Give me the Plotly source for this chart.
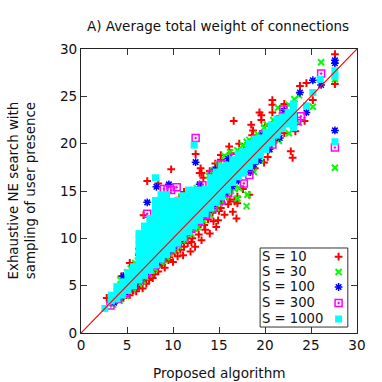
import plotly.graph_objects as go

# Values
s10_x = [2.8, 4.6, 5.3, 6.0, 6.7, 5.7, 6.3, 7.1, 7.8, 7.4, 8.4, 8.0, 9.1, 8.8, 10.0, 9.6, 10.5, 11.1, 10.8, 11.9, 12.4, 11.6,
         13.1, 12.1, 14.0, 13.5, 14.7, 14.9, 15.6, 16.5, 16.9, 17.0, 17.0, 15.2, 16.0, 18.3, 17.6,
         7.2, 9.8, 13.0, 13.1, 12.9, 12.46, 6.8, 8.4, 8.9, 10.6, 11.2, 10.7, 7.6, 8.2, 9.4, 5.3, 4.4, 6.3,
         16.1, 17.2, 15.2, 15.2, 16.3, 18.6, 14.6, 14.0, 13.3,
         20.8, 20.8, 20.8, 19.4, 19.6, 19.6, 18.5, 18.7, 22.1, 22.9, 23.8, 24.5, 25.2, 16.6, 22.8, 23.0,
         22.1, 21.2, 27.6, 27.6, 20.0, 21.6, 20.3, 19.9, 24.3, 23.3, 18.9, 19.2,
         5.0, 5.6, 6.1, 6.5, 6.9, 7.3, 7.7, 8.2, 8.6, 9.3, 9.8, 10.3, 10.9, 11.4, 12.7, 13.8, 14.3, 15.3, 15.9,
         9.0, 9.5, 10.2, 11.2, 12.0, 12.8, 13.4, 14.4, 15.0, 16.2, 16.7]
s10_y = [3.7, 3.7, 4.0, 4.4, 4.7, 4.5, 4.9, 5.2, 5.8, 5.6, 6.5, 6.2, 6.9, 7.2, 7.5, 8.0, 8.1, 8.2, 8.8, 8.6, 9.1, 9.5,
         9.8, 10.0, 10.5, 10.9, 11.2, 11.9, 12.5, 12.8, 12.1, 14.4, 13.7, 13.2, 13.6, 14.6, 15.2,
         16.05, 17.3, 17.4, 16.9, 16.9, 18.9, 12.45, 15.8, 11.7, 13.7, 14.9, 14.3, 10.6, 12.0, 13.0, 7.4, 6.0, 8.9,
         19.7, 20.0, 18.8, 18.3, 19.0, 20.9, 17.9, 17.1, 16.4,
         24.6, 24.1, 23.3, 23.3, 23.0, 22.5, 22.0, 21.4, 24.2, 24.1, 26.1, 26.4, 24.6, 22.4, 19.2, 18.5,
         21.1, 20.6, 29.45, 26.3, 21.9, 22.9, 18.6, 18.0, 22.4, 21.3, 17.4, 19.9,
         4.1, 4.5, 4.9, 5.3, 5.6, 5.9, 6.3, 6.9, 7.3, 7.9, 8.4, 8.8, 9.5, 10.0, 11.2, 12.0, 12.7, 13.8, 14.5,
         7.6, 7.7, 8.5, 9.1, 9.6, 10.4, 11.4, 11.8, 12.9, 14.1, 13.9]

s30_x = [3.5, 4.2, 4.9, 5.6, 6.3, 7.0, 7.7, 8.3, 9.0, 9.6, 10.3, 11.0, 11.7, 12.3, 13.0, 13.7, 14.3, 15.0, 15.7, 16.3, 17.2,
         18.1, 18.0, 17.0, 5.0, 6.2, 8.6, 10.9, 12.6, 14.4, 15.6, 18.3, 17.6, 19.2, 20.2, 21.4, 22.6, 23.2, 23.7,
         22.6, 23.7, 25.2, 26.1, 27.6, 27.6, 20.5, 19.5, 21.5, 18.8, 16.6,
         6.7, 7.4, 8.0, 8.7, 9.3, 10.0, 10.6, 11.3, 12.0, 12.7, 13.3, 14.0, 14.7, 15.3, 16.0, 16.7,
         4.3, 5.4, 5.9, 13.9, 14.9, 16.2, 17.0, 18.0, 19.9, 20.9, 22.0]
s30_y = [3.0, 3.4, 3.9, 4.7, 5.2, 5.9, 6.6, 7.2, 7.7, 8.4, 9.0, 9.8, 10.4, 11.0, 11.7, 12.4, 13.1, 13.7, 14.4, 15.0, 15.3,
         14.6, 13.4, 14.2, 6.4, 8.1, 12.9, 14.4, 15.3, 17.2, 18.7, 20.4, 19.8, 21.0, 22.0, 23.8, 24.1, 24.7, 25.1,
         21.1, 22.2, 23.9, 28.6, 26.8, 17.45, 19.4, 18.3, 20.3, 17.0, 15.6,
         5.5, 6.2, 6.8, 7.5, 8.0, 8.7, 9.2, 9.9, 10.5, 11.2, 11.9, 12.5, 13.2, 13.9, 14.6, 15.2,
         5.6, 6.8, 7.4, 16.6, 17.8, 19.1, 19.3, 20.2, 21.7, 22.5, 23.4]

s100_x = [3.6, 4.4, 5.2, 5.9, 6.6, 7.3, 8.0, 8.7, 9.4, 10.1, 10.8, 11.5, 12.2, 12.9, 13.6, 14.3, 15.0, 15.7, 16.4, 17.1,
          4.6, 6.3, 6.9, 7.2, 8.2, 9.1, 9.55, 9.8, 12.46, 12.9, 11.3, 14.6, 16.0, 17.7, 18.4, 19.7, 20.5, 22.1, 23.0,
          24.5, 25.2, 26.1, 27.6, 27.6, 27.6, 23.8, 18.8, 19.3, 21.6, 22.8,
          4.8, 5.5, 6.2, 6.9, 7.6, 8.3, 9.0, 9.7, 10.4, 11.1, 11.8, 12.5, 13.2, 13.9, 14.6, 15.3]
s100_y = [3.2, 3.8, 4.6, 5.2, 5.9, 6.5, 7.2, 7.9, 8.5, 9.2, 9.9, 10.6, 11.3, 12.0, 12.6, 13.4, 14.1, 14.8, 15.5, 16.1,
          6.0, 8.2, 9.9, 13.8, 15.45, 13.8, 15.7, 12.5, 18.05, 15.7, 14.4, 17.3, 18.4, 19.2, 17.0, 20.9, 19.4, 23.5, 22.2,
          23.3, 26.7, 26.2, 28.8, 28.5, 21.4, 25.4, 17.8, 18.2, 20.6, 22.8,
          4.3, 4.9, 5.5, 6.2, 6.9, 7.5, 8.2, 8.8, 9.6, 10.2, 11.0, 11.7, 12.3, 13.0, 13.8, 14.5]

s300_x = [3.2, 4.0, 4.8, 5.6, 6.4, 7.2, 8.0, 8.8, 9.6, 10.4, 11.2, 12.0, 12.8, 13.6, 14.4, 15.2, 16.0,
          6.7, 7.2, 8.4, 9.0, 9.4, 9.8, 12.46, 13.2, 11.6, 14.2, 16.6, 18.3, 17.7, 17.5, 19.8, 22.0, 23.9, 23.5,
          26.1, 27.6, 10.4, 8.0, 15.2, 20.8]
s300_y = [2.9, 3.6, 4.2, 5.0, 5.7, 6.4, 7.2, 7.9, 8.8, 9.5, 10.2, 11.0, 11.8, 12.5, 13.2, 14.0, 14.8,
          9.0, 12.6, 13.0, 15.2, 15.2, 15.1, 20.6, 15.6, 14.2, 16.8, 18.5, 16.7, 15.8, 17.0, 21.0, 23.6, 22.9, 22.4,
          27.4, 19.6, 15.4, 11.4, 17.8, 19.9]

# cyan squares, one list of y values per x position
s1000_cols = [2.6, 3.3, 3.9, 4.5, 5.1, 5.7, 6.3, 6.9, 7.5, 8.1, 8.7, 9.3, 9.9, 10.5, 11.1, 11.7, 12.3, 12.9,
              13.5, 14.1, 14.7, 15.3, 15.9, 16.5, 17.1, 17.7, 18.3, 18.9, 19.5, 20.1, 20.7, 21.3, 21.9, 22.5, 23.1]
s1000_rows = [
    [2.6],
    [3.4, 4.0],
    [3.6, 4.0, 4.4, 4.9],
    [4.0, 4.4, 4.8, 5.4],
    [4.5, 4.9, 5.3, 5.9, 6.4],
    [5.0, 5.4, 5.8, 6.4, 7.0],
    [5.6, 6.0, 6.4, 7.0, 7.6, 8.2, 8.7, 9.3, 9.9, 10.5],
    [6.1, 6.6, 7.0, 7.6, 8.2, 8.8, 9.4, 10.0, 10.6, 11.3],
    [6.6, 7.1, 7.5, 8.1, 8.7, 9.3, 9.9, 10.5, 11.1, 11.7, 12.1],
    [7.2, 7.6, 8.0, 8.6, 9.2, 9.8, 10.4, 11.0, 11.6, 12.2, 12.8, 13.4, 14.0, 16.4],
    [7.8, 8.2, 8.6, 9.2, 9.8, 10.4, 11.0, 11.6, 12.2, 12.7, 13.3, 14.0, 14.6],
    [8.3, 8.8, 9.2, 9.8, 10.4, 11.0, 11.6, 12.2, 12.8, 13.4, 14.0, 14.6],
    [8.9, 9.4, 9.8, 10.4, 11.0, 11.6, 12.2, 12.8, 13.4, 13.9],
    [9.5, 10.0, 10.4, 11.0, 11.6, 12.2, 12.8, 13.4, 14.0],
    [10.1, 10.6, 11.0, 11.6, 12.2, 12.8, 13.4, 14.0, 14.5],
    [10.7, 11.2, 11.6, 12.2, 12.8, 13.4, 14.0, 14.6, 15.1],
    [11.3, 11.8, 12.2, 12.8, 13.4, 14.0, 14.6, 15.1, 19.85],
    [11.9, 12.4, 12.8, 13.4, 14.0, 14.6, 15.1],
    [12.6, 13.0, 13.4, 14.0, 14.6, 15.2],
    [13.2, 13.6, 14.0, 14.6, 15.2, 15.8, 16.4],
    [13.8, 14.2, 14.6, 15.2, 15.8, 16.4, 17.0],
    [14.4, 14.9, 15.3, 15.9, 16.5, 17.1, 17.6],
    [15.1, 15.5, 15.9, 16.5, 17.1, 17.7],
    [15.9, 16.5, 17.1, 17.7, 18.3],
    [16.5, 17.1, 17.7, 18.3, 18.9],
    [16.9, 17.5, 18.1, 18.7, 19.2],
    [17.6, 18.2, 18.8, 19.4, 20.0],
    [18.2, 18.8, 19.4, 20.0, 20.5],
    [18.8, 19.4, 20.0, 20.6],
    [19.4, 20.0, 20.6, 21.2],
    [20.1, 20.7, 21.3, 21.9],
    [20.9, 21.5, 22.1, 22.6],
    [21.6, 22.2, 22.8],
    [22.1, 22.7, 23.3],
    [21.7, 22.3, 22.9, 23.5, 24.2],
]
s1000_extra_x = [24.5, 25.2, 26.0, 27.6, 27.6, 27.6]
s1000_extra_y = [24.0, 25.4, 26.8, 27.7, 27.1, 20.2]

line_x = [0, 30]
line_y = [0, 30]

legend_names = ['S = 10', 'S = 30', 'S = 100', 'S = 300', 'S = 1000']
legend_rows = [8.06, 6.45, 4.86, 3.17, 1.48]
legend_x = [28.0] * 5

red = '#ff0000'
green = '#00ff00'
blue = '#0000ff'
magenta = '#ff00ff'
cyan = '#00ffff'
font = 'DejaVu Sans'

s1000_x = []
s1000_y = []
for col, row in zip(s1000_cols, s1000_rows):
    s1000_x += [col] * len(row)
    s1000_y += row
s1000_x += s1000_extra_x
s1000_y += s1000_extra_y

styles = [dict(symbol='cross-thin', size=5.5, color=red, line=dict(color=red, width=2)),
          dict(symbol='x-thin', size=6, color=green, line=dict(color=green, width=2)),
          dict(symbol='asterisk', size=6.5, color=blue, line=dict(color=blue, width=1.5)),
          dict(symbol='square-open-dot', size=7, color=magenta, line=dict(color=magenta, width=1.5)),
          dict(symbol='square', size=7, color=cyan, line=dict(width=0))]

fig = go.Figure()

for xs, ys, style in zip([s10_x, s30_x, s100_x, s300_x, s1000_x],
                         [s10_y, s30_y, s100_y, s300_y, s1000_y], styles):
    fig.add_trace(go.Scatter(x=xs, y=ys, mode='markers', marker=style, showlegend=False))

fig.add_trace(go.Scatter(x=line_x, y=line_y, mode='lines', line=dict(color=red, width=1.2), showlegend=False))

# gnuplot style key: text on the left, sample on the right
for name, row, style in zip(legend_names, legend_rows, styles):
    fig.add_trace(go.Scatter(x=[legend_x[0]], y=[row], mode='markers', marker=style, showlegend=False))
    fig.add_annotation(x=19.45, y=row, xref='x', yref='y', text=name, showarrow=False, xanchor='left',
                       font=dict(family=font, size=13.2, color='#111111'))

fig.add_shape(type='rect', x0=19.47, x1=29.0, y0=0.63, y1=8.98, xref='x', yref='y', layer='below',
              line=dict(color='#333333', width=1))

fig.update_layout(width=382, height=382, margin=dict(l=81, r=24.5, t=49, b=49, autoexpand=False),
                  plot_bgcolor='white', paper_bgcolor='white', showlegend=False,
                  font=dict(family=font, size=13.6, color='#111111'),
                  title=dict(text='A) Average total weight of connections', x=0.5707, xanchor='center',
                             y=0.932, yanchor='middle', font=dict(family=font, size=13.5)))

# axis titles placed by hand so they do not push the margins
fig.add_annotation(xref='paper', yref='paper', x=0, y=0.5, xanchor='center', xshift=-59.5, textangle=-90,
                   showarrow=False, text='Exhaustive NE search with<br>sampling of user presence',
                   font=dict(family=font, size=13.4, color='#111111'))
fig.add_annotation(xref='paper', yref='paper', x=0.5, y=0, yanchor='middle', yshift=-40, showarrow=False,
                   text='Proposed algorithm', font=dict(family=font, size=13.6, color='#111111'))

fig.update_xaxes(range=[0, 30], tickvals=[0, 5, 10, 15, 20, 25, 30], ticks='inside', ticklen=6, tickcolor='#333333',
                 mirror='ticks', showline=True, linecolor='#222222', linewidth=1, showgrid=False, zeroline=False)
fig.update_yaxes(range=[0, 30], tickvals=[0, 5, 10, 15, 20, 25, 30], ticks='inside', ticklen=6, tickcolor='#333333',
                 mirror='ticks', showline=True, linecolor='#222222', linewidth=1, showgrid=False, zeroline=False)

fig.write_html("out.html", config=dict(displayModeBar=False), post_script="document.body.style.margin='0';")
